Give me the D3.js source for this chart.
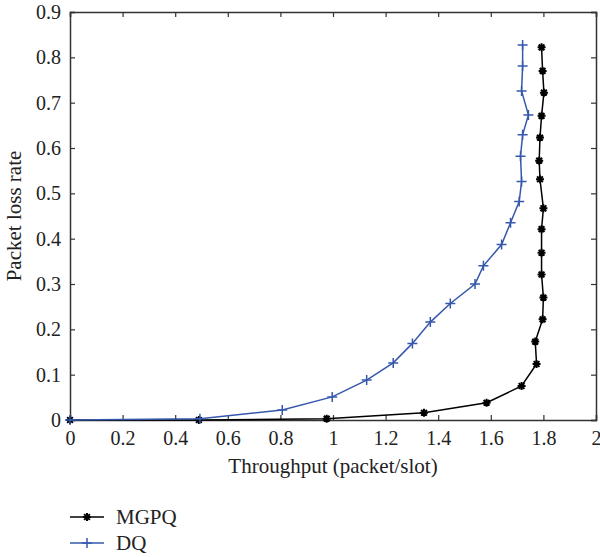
<!DOCTYPE html>
<html><head><meta charset="utf-8">
<script src="https://cdn.jsdelivr.net/npm/d3@7"></script>
<style>body{margin:0;background:#fff;} text{font-family:"Liberation Serif","DejaVu Serif",serif;fill:#222;}</style>
</head><body><svg id="c" width="600" height="557"></svg>
<script>
const mgpqX = [0, 0.49, 0.976, 1.346, 1.584, 1.717, 1.774, 1.769, 1.797, 1.80, 1.793, 1.793, 1.793, 1.80, 1.787, 1.784, 1.787, 1.793, 1.802, 1.797, 1.793];
const mgpqY = [0, 0.0, 0.003, 0.016, 0.038, 0.075, 0.1235, 0.173, 0.222, 0.27, 0.321, 0.369, 0.421, 0.467, 0.531, 0.572, 0.623, 0.671, 0.722, 0.77, 0.822];
const dqX = [0, 0.494, 0.807, 0.997, 1.128, 1.229, 1.302, 1.37, 1.446, 1.54, 1.572, 1.641, 1.675, 1.708, 1.717, 1.713, 1.721, 1.743, 1.717, 1.721, 1.721];
const dqY = [0, 0.003, 0.022, 0.051, 0.088, 0.126, 0.169, 0.216, 0.257, 0.30, 0.34, 0.387, 0.435, 0.482, 0.526, 0.582, 0.629, 0.673, 0.726, 0.781, 0.827];
const xTicks = [0, 0.2, 0.4, 0.6, 0.8, 1, 1.2, 1.4, 1.6, 1.8, 2];
const yTicks = [0, 0.1, 0.2, 0.3, 0.4, 0.5, 0.6, 0.7, 0.8, 0.9];
const seriesNames = ["MGPQ", "DQ"];
const colors = ["#000000", "#3558ad"];

const svg = d3.select("#c");
const L = 70, R = 596, T = 12, B = 420;
const x = d3.scaleLinear().domain([0, 2]).range([L, R]);
const y = d3.scaleLinear().domain([0, 0.9]).range([B, T]);
const axisColor = "#333";

const fmt = d => d3.format("")(d);
const gx = svg.append("g").attr("transform", `translate(0,${B})`)
  .call(d3.axisBottom(x).tickValues(xTicks).tickSize(-5).tickPadding(11).tickFormat(fmt));
const gy = svg.append("g").attr("transform", `translate(${L},0)`)
  .call(d3.axisLeft(y).tickValues(yTicks).tickSize(-5).tickPadding(9).tickFormat(fmt));
const gxt = svg.append("g").attr("transform", `translate(0,${T})`)
  .call(d3.axisTop(x).tickValues(xTicks).tickSize(-5).tickFormat(""));
const gyr = svg.append("g").attr("transform", `translate(${R},0)`)
  .call(d3.axisRight(y).tickValues(yTicks).tickSize(-5).tickFormat(""));
[gx, gy, gxt, gyr].forEach(g => {
  g.select(".domain").attr("stroke", axisColor).attr("stroke-width", 1.5);
  g.selectAll(".tick line").attr("stroke", axisColor).attr("stroke-width", 1.2);
  g.selectAll(".tick text").attr("font-size", 20).attr("fill", "#222")
    .style("font-family", '"Liberation Serif", serif');
});

const series = [
  {name: seriesNames[0], xs: mgpqX, ys: mgpqY, color: colors[0], marker: "star"},
  {name: seriesNames[1], xs: dqX, ys: dqY, color: colors[1], marker: "plus"}
];
const line = d3.line().x(d => x(d[0])).y(d => y(d[1]));
function drawMarker(g, type, cx, cy, color) {
  if (type === "plus") {
    const s = 5;
    g.append("path").attr("d", `M${cx - s},${cy}H${cx + s}M${cx},${cy - s}V${cy + s}`)
      .attr("stroke", color).attr("stroke-width", 1.5).attr("fill", "none");
  } else {
    const s = 4;
    const d = s * 0.72;
    g.append("path").attr("d", `M${cx - s},${cy}H${cx + s}M${cx},${cy - s}V${cy + s}M${cx - d},${cy - d}L${cx + d},${cy + d}M${cx - d},${cy + d}L${cx + d},${cy - d}`)
      .attr("stroke", color).attr("stroke-width", 2).attr("fill", "none");
  }
}
series.forEach(s => {
  const pts = s.xs.map((v, i) => [v, s.ys[i]]);
  svg.append("path").datum(pts).attr("d", line).attr("fill", "none")
    .attr("stroke", s.color).attr("stroke-width", 1.5);
  const g = svg.append("g");
  pts.forEach(p => drawMarker(g, s.marker, x(p[0]), y(p[1]), s.color));
});

svg.append("text").attr("x", 333).attr("y", 473).attr("text-anchor", "middle")
  .attr("font-size", 21).text("Throughput (packet/slot)");
svg.append("text").attr("transform", `translate(21,${(T + B) / 2}) rotate(-90)`)
  .attr("text-anchor", "middle").attr("font-size", 21).text("Packet loss rate");

const legY = [517, 543];
series.forEach((s, i) => {
  const g = svg.append("g");
  g.append("line").attr("x1", 70).attr("x2", 104).attr("y1", legY[i]).attr("y2", legY[i])
    .attr("stroke", s.color).attr("stroke-width", 1.5);
  drawMarker(g, s.marker, 87, legY[i], s.color);
  g.append("text").attr("x", 116).attr("y", legY[i] + 7).attr("font-size", 21).text(s.name);
});
</script></body></html>
